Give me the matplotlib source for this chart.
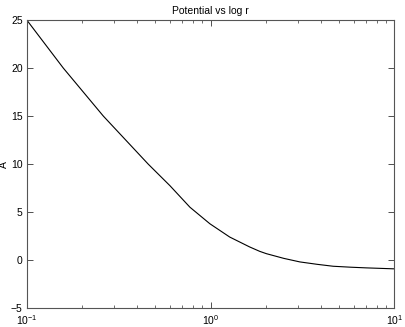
# potential vs log r, matlab-style look
import matplotlib
matplotlib.use('Agg')
import matplotlib.pyplot as plt

# values
r = [0.1, 0.158, 0.261, 0.458, 0.601, 0.772, 0.991, 1.27, 1.63, 1.85, 2.01,
     2.5, 3.06, 3.8, 4.64, 5.8, 7.05, 10]
A = [25, 20, 15, 10, 7.76, 5.52, 3.8, 2.42, 1.39, 0.93, 0.69,
     0.2, -0.17, -0.42, -0.62, -0.72, -0.79, -0.89]
yticks = [-5, 0, 5, 10, 15, 20, 25]

plt.rcParams['font.family'] = ['Liberation Sans', 'DejaVu Sans']
plt.rcParams['mathtext.fontset'] = 'custom'
plt.rcParams['mathtext.rm'] = 'Liberation Sans'
plt.rcParams['mathtext.it'] = 'Liberation Sans'

fig = plt.figure(figsize=(4.05, 3.27), dpi=100)
ax = fig.add_axes([0.066, 0.057, 0.908, 0.882])

ax.plot(r, A, color='black', linewidth=0.8)

ax.set_xscale('log')
ax.set_xlim(0.1, 10)
ax.set_ylim(-5, 25)
ax.set_yticks(yticks)

ax.set_title('Potential vs log r', fontsize=7.5, pad=4)
ax.set_ylabel('A', fontsize=7.5, labelpad=1.5)

ax.tick_params(which='both', direction='in', top=True, right=True,
               labelsize=7.5, color='#333333', pad=3)
ax.tick_params(axis='x', which='both', pad=3.5)
ax.tick_params(which='major', length=4, width=0.6)
ax.tick_params(which='minor', length=2, width=0.5)
for s in ax.spines.values():
    s.set_color('#555555')
    s.set_linewidth(0.8)

plt.savefig('out.png', dpi=100)
